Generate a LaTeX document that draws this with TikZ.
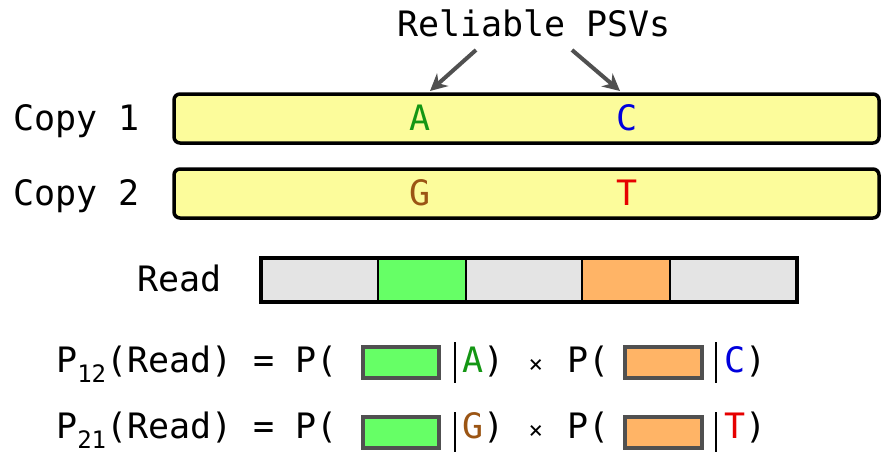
\documentclass[tikz,border=0pt]{standalone}
\usepackage{fontspec}
\setmonofont{DejaVu Sans Mono}
\usetikzlibrary{arrows.meta}
\definecolor{boxyellow}{RGB}{252,252,155}
\definecolor{segGreen}{RGB}{102,255,102}
\definecolor{segOrange}{RGB}{255,180,102}
\definecolor{segGray}{RGB}{228,228,228}
\definecolor{arrGray}{RGB}{80,80,80}
\definecolor{cA}{RGB}{20,150,20}
\definecolor{cC}{RGB}{0,0,220}
\definecolor{cG}{RGB}{155,85,20}
\definecolor{cT}{RGB}{230,0,0}
\newcommand{\bigtxt}{\ttfamily\fontsize{35}{40}\selectfont}
\newcommand{\subtxt}[1]{\smash{\raisebox{-10pt}{\fontsize{24}{26}\selectfont #1}}}
\newcommand{\smalltimes}{\makebox[21.07pt]{\fontsize{24}{26}\selectfont ×}}
\begin{document}
\begin{tikzpicture}[x=1pt,y=-1pt,
  txt/.style={inner sep=0pt,anchor=base west,font=\bigtxt},
  ctxt/.style={inner sep=0pt,anchor=base,font=\bigtxt},
  copybox/.style={draw=black,line width=3.5pt,rounded corners=6pt,fill=boxyellow},
  seg/.style={draw=black,line width=2.5pt},
  smallbox/.style={draw=arrGray,line width=4pt},
  pointer/.style={draw=arrGray,line width=4pt,-{Stealth[length=17pt,width=17pt]}},
  barline/.style={draw=black,line width=2pt}]
\useasboundingbox (0,0) rectangle (883,452);
% title
\node[ctxt] (title) at (534,37) {Reliable PSVs};
% copy boxes
\draw[copybox] (174,94) rectangle (879,143);
\draw[copybox] (174,169) rectangle (879,218);
\node[txt] (copy1) at (13,130) {Copy 1};
\node[txt] (copy2) at (13,205) {Copy 2};
\node[ctxt,text=cA] (A1) at (420,130) {A};
\node[ctxt,text=cC] (C1) at (627,130) {C};
\node[ctxt,text=cG] (G2) at (420,205) {G};
\node[ctxt,text=cT] (T2) at (627,205) {T};
% arrows
\coordinate (sA) at (476,50);
\coordinate (sC) at (572,50);
\coordinate (pA) at (430,91);
\coordinate (pC) at (620,91);
\draw[pointer] (sA) -- (pA);
\draw[pointer] (sC) -- (pC);
% read
\node[txt] (readlbl) at (137,291) {Read};
\fill[segGray] (261,258) rectangle (797,302);
\fill[segGreen] (378,258) rectangle (466,302);
\fill[segOrange] (582,258) rectangle (670,302);
\draw[seg] (378,258) -- (378,302);
\draw[seg] (466,258) -- (466,302);
\draw[seg] (582,258) -- (582,302);
\draw[seg] (670,258) -- (670,302);
\draw[draw=black,line width=4pt] (261,258) rectangle (797,302);
% equation 1
\node[txt] (eq1a) at (56,372) {P\subtxt{12}(Read) = P(};
\draw[smallbox,fill=segGreen] (363,347) rectangle (439,378);
\draw[barline] (455,342) -- (455,383);
\node[txt] (eq1b) at (462,372) {\textcolor{cA}{A}) \smalltimes{} P(};
\draw[smallbox,fill=segOrange] (625,347) rectangle (702,378);
\draw[barline] (716,342) -- (716,383);
\node[txt] (eq1c) at (724,372) {\textcolor{cC}{C})};
% equation 2
\node[txt] (eq2a) at (56,438) {P\subtxt{21}(Read) = P(};
\draw[smallbox,fill=segGreen] (363,417) rectangle (439,448);
\draw[barline] (455,412) -- (455,454);
\node[txt] (eq2b) at (462,438) {\textcolor{cG}{G}) \smalltimes{} P(};
\draw[smallbox,fill=segOrange] (625,417) rectangle (702,448);
\draw[barline] (716,412) -- (716,454);
\node[txt] (eq2c) at (724,438) {\textcolor{cT}{T})};
\end{tikzpicture}
\end{document}
